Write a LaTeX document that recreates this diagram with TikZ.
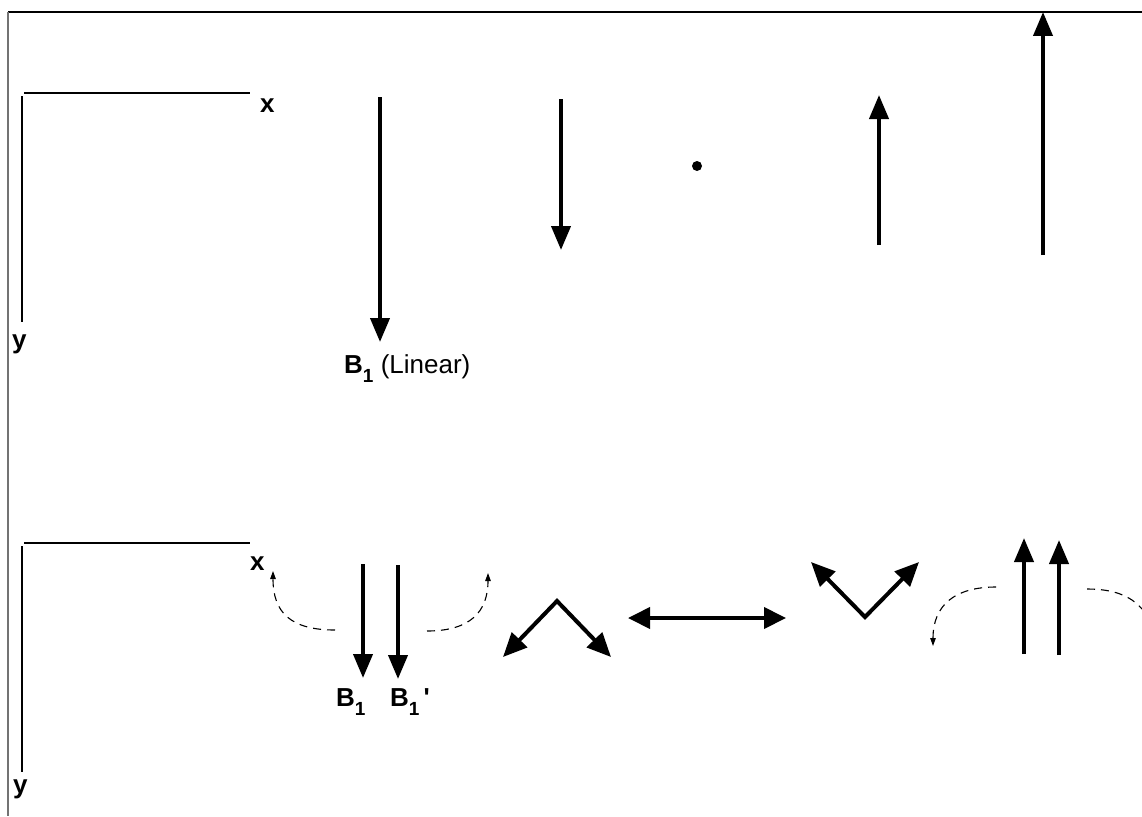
\documentclass[tikz,border=0pt]{standalone}
\usepackage{fontspec}
\setmainfont{Liberation Sans}
\usetikzlibrary{arrows.meta}
\tikzset{
  bigarrow/.style={line width=4pt, -{Triangle[length=24pt,width=19pt]}},
  dblarrow/.style={line width=4pt, {Triangle[length=22pt,width=21pt]}-{Triangle[length=22pt,width=21pt]}},
  vee/.style={line width=4pt, {Triangle[length=24pt,width=21pt]}-{Triangle[length=24pt,width=21pt]}},
  rot/.style={line width=1.1pt, dash pattern=on 8pt off 6pt, -{Triangle[length=8pt,width=5.5pt]}},
  rotnotip/.style={line width=1.1pt, dash pattern=on 8pt off 6pt},
  axisline/.style={line width=1.8pt},
  frameline/.style={line width=1.5pt},
  lbl/.style={font=\fontsize{26}{26}\selectfont, anchor=base west, inner sep=0pt}
}
\newcommand{\subone}{\raisebox{-9pt}{\fontsize{19}{19}\selectfont\bfseries 1}}
\begin{document}
\begin{tikzpicture}[x=1pt,y=-1pt]
\useasboundingbox (0,0) rectangle (1142,816);
% frame
\coordinate (f1) at (8,12);
\coordinate (f2) at (1142,12);
\coordinate (f3) at (8,816);
\draw[frameline] (f1) -- (f2);
\draw[frameline, black!55] (f1) -- (f3);

% ---------- top part ----------
\coordinate (ax1o) at (24,93);
\coordinate (ax1x) at (250,93);
\coordinate (ax1v) at (22,96);
\coordinate (ax1y) at (22,322);
\draw[axisline] (ax1o) -- (ax1x);
\draw[axisline] (ax1v) -- (ax1y);
\node[lbl] (xt) at (260,112) {\textbf{x}};
\node[lbl] (yt) at (12,348) {\textbf{y}};

\coordinate (a1s) at (380,97);  \coordinate (a1e) at (380,342);
\coordinate (a2s) at (561,99);  \coordinate (a2e) at (561,250);
\coordinate (a3s) at (879,245); \coordinate (a3e) at (879,95);
\coordinate (a4s) at (1043,255);\coordinate (a4e) at (1043,12);
\draw[bigarrow] (a1s) -- (a1e);
\draw[bigarrow] (a2s) -- (a2e);
\draw[bigarrow] (a3s) -- (a3e);
\draw[bigarrow] (a4s) -- (a4e);
\fill (697,166) circle (5);
\node[lbl] (blin) at (344,373) {\textbf{B}\subone\ (Linear)};

% ---------- bottom part ----------
\coordinate (ax2o) at (24,543);
\coordinate (ax2x) at (250,543);
\coordinate (ax2v) at (22,546);
\coordinate (ax2y) at (22,772);
\draw[axisline] (ax2o) -- (ax2x);
\draw[axisline] (ax2v) -- (ax2y);
\node[lbl] (xb) at (250,570) {\textbf{x}};
\node[lbl] (yb) at (13,793) {\textbf{y}};

% B1, B1'
\coordinate (b1s) at (363,564); \coordinate (b1e) at (363,678);
\coordinate (b2s) at (398,565); \coordinate (b2e) at (398,679);
\draw[bigarrow] (b1s) -- (b1e);
\draw[bigarrow] (b2s) -- (b2e);
\node[lbl] (lb1) at (336,706) {\textbf{B}\subone};
\node[lbl] (lb2) at (390,706) {\textbf{B}\subone\hspace{4pt}\textbf{\textquotesingle}};

% dashed rotation arrows left
\coordinate (r1s) at (335,630); \coordinate (r1e) at (273,571);
\coordinate (r2s) at (427,631); \coordinate (r2e) at (488,573);
\draw[rot] (r1s) .. controls (290,630) and (273,612) .. (r1e);
\draw[rot] (r2s) .. controls (470,631) and (488,612) .. (r2e);

% Lambda shape
\coordinate (lamL) at (503,657);
\coordinate (lamA) at (557,601);
\coordinate (lamR) at (611,657);
\draw[vee, line join=miter] (lamL) -- (lamA) -- (lamR);

% double arrow
\coordinate (hL) at (628,618);
\coordinate (hR) at (786,618);
\draw[dblarrow] (hL) -- (hR);

% V shape
\coordinate (vL) at (811,562);
\coordinate (vA) at (865,617);
\coordinate (vR) at (919,562);
\draw[vee, line join=miter] (vL) -- (vA) -- (vR);

% two up arrows
\coordinate (u1s) at (1024,654); \coordinate (u1e) at (1024,538);
\coordinate (u2s) at (1059,655); \coordinate (u2e) at (1059,540);
\draw[bigarrow] (u1s) -- (u1e);
\draw[bigarrow] (u2s) -- (u2e);

% dashed rotation arrows right
\coordinate (r3s) at (996,587); \coordinate (r3e) at (933,646);
\coordinate (r4s) at (1087,589); \coordinate (r4e) at (1142,609);
\draw[rot] (r3s) .. controls (955,587) and (933,605) .. (r3e);
\draw[rotnotip] (r4s) .. controls (1112,589) and (1130,595) .. (r4e);
\end{tikzpicture}
\end{document}
